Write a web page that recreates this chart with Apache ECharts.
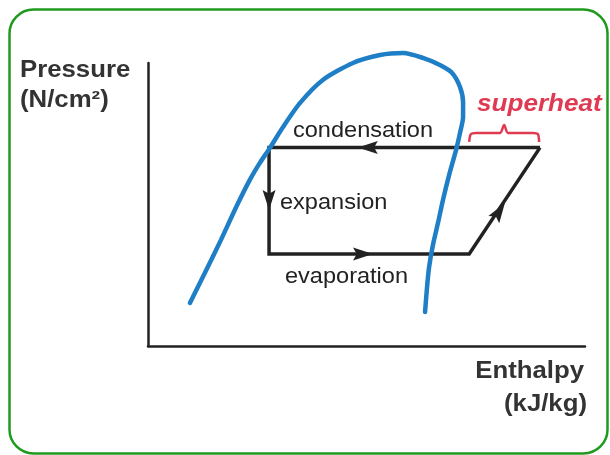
<!DOCTYPE html>
<html>
<head>
<meta charset="utf-8">
<script src="https://cdn.jsdelivr.net/npm/echarts@6/dist/echarts.min.js"></script>
<style>
  html, body { margin: 0; padding: 0; background: #fff; }
  #chart { width: 610px; height: 455px; }
</style>
</head>
<body>
<div id="chart"></div>
<script>
// saturation dome (enthalpy, pressure) in relative units 0-100
var domeH = [9.6, 13.0, 16.7, 20.4, 23.3, 25.6, 27.9, 30.9, 34.8, 40.0, 46.9, 53.1, 58.4, 62.9, 66.8, 69.6, 71.4, 72.1, 72.1, 71.4, 70.5, 68.9, 67.5, 66.4, 65.2, 64.3, 63.8, 63.4];
var domeP = [15.2, 25.8, 37.5, 49.8, 58.7, 64.7, 70.0, 77.4, 85.9, 94.0, 100.0, 102.8, 103.5, 101.8, 99.3, 96.5, 91.5, 86.2, 80.9, 75.3, 69.3, 60.4, 51.6, 43.8, 35.7, 27.6, 19.8, 12.0];

// refrigeration cycle
var cycleH = [89.7, 27.7, 27.7, 73.5, 89.7];
var cycleP = [70.1, 70.1, 32.5, 32.5, 70.1];

// direction arrows on the cycle
var arrowH = [50.3, 27.7, 49.2, 80.4];
var arrowP = [70.1, 51.6, 32.5, 47.6];
var arrowAngle = [90, 180, -90, -33.6];

// superheat brace
var braceH = [73.5, 73.9, 75.1, 80.5, 81.5, 82.4, 88.1, 89.2, 89.5];
var braceP = [72.1, 74.9, 75.3, 75.3, 78.1, 75.3, 75.3, 74.9, 72.1];

function pairs(a, b) {
    return a.map(function (v, i) { return [v, b[i]]; });
}

var font = "'Liberation Sans', Arial, sans-serif";
var ink = '#222';

function label(text, x, y, size, opts) {
    opts = opts || {};
    return {
        type: 'text',
        x: x,
        y: y,
        scaleX: opts.scaleX || 1.07,
        style: {
            text: text,
            font: (opts.weight || '') + ' ' + size + 'px ' + font,
            fill: opts.color || ink,
            align: opts.align || 'left',
            verticalAlign: 'middle'
        },
        silent: true
    };
}

var option = {
    animation: false,
    grid: {
        left: 148,
        right: 25,
        top: 63,
        bottom: 109
    },
    xAxis: {
        type: 'value',
        min: 0,
        max: 100,
        axisLine: {lineStyle: {color: ink, width: 2.5}},
        axisTick: {show: false},
        axisLabel: {show: false},
        splitLine: {show: false}
    },
    yAxis: {
        type: 'value',
        min: 0,
        max: 100,
        axisLine: {show: true, lineStyle: {color: ink, width: 2.5}},
        axisTick: {show: false},
        axisLabel: {show: false},
        splitLine: {show: false}
    },
    graphic: [
        {
            type: 'rect',
            shape: {x: 9.5, y: 9.5, width: 598, height: 444, r: 24},
            style: {fill: 'none', stroke: '#1f9a1f', lineWidth: 2.5},
            silent: true
        },
        label('Pressure', 20, 71, 23, {weight: 'bold', color: '#333', scaleX: 1.12}),
        label('(N/cm²)', 20, 101, 23, {weight: 'bold', color: '#333', scaleX: 1.12}),
        label('Enthalpy', 584, 372, 23, {weight: 'bold', color: '#333', scaleX: 1.12, align: 'right'}),
        label('(kJ/kg)', 587, 405, 23, {weight: 'bold', color: '#333', scaleX: 1.12, align: 'right'}),
        label('condensation', 293, 131, 22),
        label('expansion', 280, 203, 22),
        label('evaporation', 285, 277, 22),
        label('superheat', 477, 104, 24, {weight: 'italic bold', color: '#e03a52', scaleX: 1.087})
    ],
    series: [
        {
            name: 'cycle',
            type: 'line',
            data: pairs(cycleH, cycleP),
            symbol: 'none',
            lineStyle: {color: ink, width: 3.5, join: 'miter'},
            z: 2
        },
        {
            name: 'arrows',
            type: 'scatter',
            data: pairs(arrowH, arrowP).map(function (p, i) {
                return {value: p, symbolRotate: arrowAngle[i]};
            }),
            symbol: 'path://M5,0 L10,16 L5,13 L0,16 Z',
            symbolSize: [13, 20],
            itemStyle: {color: ink, opacity: 1},
            z: 3
        },
        {
            name: 'brace',
            type: 'line',
            data: pairs(braceH, braceP),
            symbol: 'none',
            smooth: 0.3,
            lineStyle: {color: '#e03a52', width: 2.5},
            z: 2
        },
        {
            name: 'dome',
            type: 'line',
            data: pairs(domeH, domeP),
            symbol: 'none',
            smooth: 0.25,
            clip: false,
            lineStyle: {color: '#1f7fc6', width: 4.5, cap: 'round'},
            z: 4
        }
    ]
};

var mychart = echarts.init(document.getElementById('chart'));
mychart.setOption(option);
</script>
</body>
</html>
